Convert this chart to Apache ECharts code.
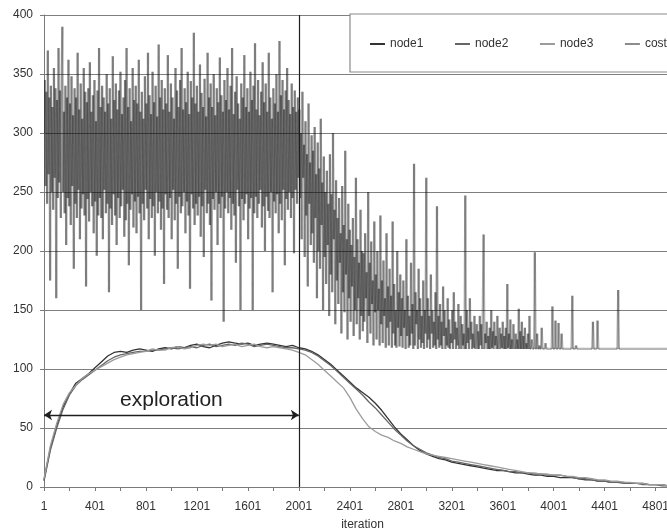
<!DOCTYPE html>
<html>
<head>
<meta charset="utf-8">
<script src="https://cdn.jsdelivr.net/npm/echarts@6/dist/echarts.min.js"></script>
<style>
  html, body { margin: 0; padding: 0; background: #fff; }
  #chart { width: 667px; height: 530px; }
</style>
</head>
<body>
<div id="chart"></div>
<script>
// ---------------- DATA ----------------
const seriesNames = ['node1', 'node2', 'node3', 'cost'];
const xTickLabels = ['1', '401', '801', '1201', '1601', '2001', '2401', '2801', '3201', '3601', '4001', '4401', '4801'];
const yTickLabels = ['0', '50', '100', '150', '200', '250', '300', '350', '400'];
const explorationStart = 1;
const explorationEnd = 2001;
const explorationLevel = 61;

// node curves, sampled every 50 iterations starting at iteration 1
const nodeFirstIteration = 1;
const nodeStep = 50;
const node1 = [
  6, 33, 52, 68, 79, 88, 92, 96, 101, 106,
  111, 114, 115, 114, 116, 117, 116, 115, 117, 118,
  117, 119, 118, 120, 121, 119, 118, 120, 122, 123,
  122, 121, 122, 120, 121, 122, 121, 120, 119, 120,
  118, 117, 115, 112, 108, 104, 99, 94, 89, 84,
  80, 76, 71, 65, 58, 51, 45, 40, 35, 31,
  28, 26, 24, 23, 21, 20, 19, 18, 17, 16,
  15, 14, 14, 13, 12, 12, 11, 10, 10, 9,
  9, 8, 8, 8, 7, 6, 6, 5, 5, 4,
  4, 4, 3, 3, 3, 2, 2, 2, 1, 1
];
const node2 = [
  5, 31, 50, 66, 78, 86, 91, 95, 99, 103,
  107, 110, 112, 113, 114, 115, 115, 116, 116, 117,
  118, 117, 118, 119, 118, 120, 121, 119, 120, 121,
  120, 122, 121, 119, 120, 121, 120, 119, 118, 118,
  117, 116, 114, 111, 107, 103, 98, 93, 88, 83,
  78, 72, 67, 61, 55, 49, 44, 39, 35, 32,
  29, 27, 25, 24, 22, 21, 20, 19, 18, 17,
  16, 15, 14, 13, 13, 12, 12, 11, 11, 10,
  10, 10, 9, 8, 7, 7, 6, 5, 5, 4,
  4, 3, 3, 3, 2, 2, 2, 1, 1, 1
];
const node3 = [
  7, 35, 54, 70, 80, 86, 92, 96, 99, 102,
  105, 108, 110, 112, 113, 114, 115, 117, 116, 116,
  118, 119, 117, 118, 120, 121, 120, 121, 119, 120,
  121, 119, 120, 121, 119, 118, 119, 118, 117, 116,
  114, 112, 108, 104, 99, 94, 89, 84, 76, 66,
  58, 51, 47, 44, 42, 39, 37, 34, 32, 30,
  28, 27, 26, 25, 24, 23, 22, 21, 20, 19,
  18, 17, 16, 15, 14, 13, 12, 12, 11, 11,
  10, 10, 9, 9, 8, 8, 7, 6, 6, 5,
  5, 4, 4, 3, 3, 2, 2, 2, 1, 1
];

// cost, sampled every 6 iterations starting at iteration 1
const costFirstIteration = 1;
const costStep = 6;
const costExploration = [
  300, 345, 255, 335, 240, 370, 265, 330, 175, 340, 250, 322, 235, 355, 262, 338, 160, 328, 245, 372,
  258, 336, 228, 345, 390, 250, 318, 232, 340, 205, 330, 245, 362, 238, 325, 222, 348, 255, 315, 185,
  338, 240, 330, 228, 368, 252, 320, 210, 342, 236, 312, 248, 355, 230, 335, 170, 326, 244, 338, 225,
  360, 250, 318, 238, 332, 215, 345, 242, 310, 196, 336, 230, 372, 245, 322, 228, 340, 210, 330, 252,
  318, 232, 350, 240, 325, 165, 338, 236, 312, 222, 365, 248, 328, 230, 342, 205, 320, 245, 336, 228,
  352, 238, 316, 252, 330, 212, 345, 226, 372, 240, 322, 188, 338, 235, 310, 248, 355, 220, 328, 242,
  340, 215, 325, 246, 362, 232, 318, 150, 335, 240, 312, 226, 348, 252, 325, 236, 368, 210, 332, 244,
  316, 228, 352, 238, 326, 196, 340, 250, 314, 232, 375, 242, 330, 218, 345, 236, 320, 172, 338, 248,
  325, 235, 366, 228, 318, 245, 342, 210, 330, 252, 312, 226, 355, 240, 336, 185, 322, 246, 345, 232,
  372, 238, 320, 250, 338, 215, 326, 242, 352, 230, 316, 168, 344, 248, 330, 236, 385, 222, 325, 240,
  340, 230, 318, 246, 358, 212, 334, 238, 322, 195, 346, 252, 314, 232, 368, 240, 330, 222, 342, 158,
  322, 244, 350, 235, 315, 250, 338, 205, 326, 240, 364, 228, 332, 246, 318, 140, 345, 236, 328, 250,
  355, 232, 320, 245, 340, 218, 372, 240, 316, 230, 335, 190, 348, 252, 325, 238, 312, 150, 342, 244,
  330, 226, 366, 240, 322, 248, 338, 210, 318, 236, 352, 245, 328, 150, 340, 232, 376, 246, 320, 228,
  345, 240, 315, 252, 335, 220, 360, 238, 326, 200, 342, 246, 318, 234, 368, 228, 330, 250, 312, 165,
  338, 242, 325, 232, 350, 248, 318, 215, 378, 240, 332, 226, 345, 252, 320, 188, 336, 244, 355, 235,
  328, 250, 316, 228, 342, 245, 322, 198, 336, 252, 318, 240, 330, 262
];
const costExploitation = [
  // 2001-2100
  320, 245, 300, 210, 335, 262, 290, 195, 310, 230, 282, 170, 325, 240, 275, 205, 298,
  // 2100-2200
  215, 285, 190, 305, 228, 265, 160, 292, 200, 270, 185, 312, 222, 258, 150, 280, 195,
  // 2200-2300
  250, 172, 268, 205, 240, 145, 282, 180, 248, 165, 300, 210, 235, 138, 260, 175,
  // 2300-2400
  228, 155, 245, 190, 215, 130, 255, 165, 222, 148, 285, 180, 210, 125, 240, 160, 218,
  // 2400-2500
  140, 205, 170, 228, 128, 195, 150, 262, 138, 210, 160, 190, 125, 235, 145, 200, 132,
  // 2500-2600
  198, 140, 215, 160, 182, 122, 250, 145, 190, 130, 208, 155, 175, 120, 225, 148,
  // 2600-2700
  180, 125, 200, 150, 168, 120, 230, 138, 175, 122, 192, 145, 160, 118, 215, 135, 170,
  // 2700-2800
  120, 185, 140, 162, 118, 225, 130, 172, 120, 150, 118, 200, 135, 165, 119, 180, 128,
  // 2800-2900
  160, 118, 175, 135, 150, 117, 210, 128, 162, 118, 145, 120, 190, 130, 155, 117,
  // 2900-3000
  274, 120, 165, 138, 150, 117, 185, 125, 160, 118, 145, 122, 175, 117, 150, 130, 262,
  // 3000-3100
  118, 160, 125, 145, 117, 180, 130, 150, 118, 140, 120, 165, 117, 238, 125, 145, 118,
  // 3100-3200
  155, 120, 140, 117, 170, 128, 150, 117, 135, 120, 160, 118, 142, 117, 130, 122,
  // 3200-3300
  150, 117, 165, 125, 140, 117, 135, 120, 155, 117, 128, 145, 117, 138, 120, 130, 117,
  // 3300-3400
  247, 117, 150, 122, 135, 117, 160, 125, 140, 117, 130, 118, 145, 117, 125, 138, 117,
  // 3400-3500
  132, 117, 145, 120, 138, 117, 155, 214, 117, 130, 122, 140, 117, 128, 117, 135,
  // 3500-3600
  117, 150, 118, 132, 117, 140, 120, 128, 117, 145, 117, 125, 135, 117, 130, 118, 140,
  // 3600-3700
  117, 128, 117, 135, 117, 172, 118, 130, 117, 142, 117, 125, 117, 138, 120, 117, 130,
  // 3700-3800
  117, 125, 117, 151, 117, 132, 117, 140, 117, 128, 117, 135, 117, 122, 117, 130,
  // 3800-3900
  117, 145, 117, 117, 125, 117, 117, 117, 199, 117, 117, 130, 117, 117, 120, 117, 117,
  // 3900-4000
  135, 117, 117, 117, 117, 122, 117, 117, 117, 117, 117, 117, 117, 117, 153, 117, 117,
  // 4000-4100
  117, 141, 117, 117, 117, 139, 117, 117, 117, 130, 117, 117, 117, 117, 117, 117,
  // 4100-4200
  117, 117, 117, 117, 117, 117, 117, 162, 117, 117, 117, 117, 120, 117, 117, 117, 117,
  // 4200-4300
  117, 117, 117, 117, 117, 117, 117, 117, 117, 117, 117, 117, 117, 117, 117, 117, 117,
  // 4300-4400
  140, 117, 117, 117, 117, 117, 141, 117, 117, 117, 117, 117, 117, 117, 117, 117,
  // 4400-4500
  117, 117, 117, 117, 117, 117, 117, 117, 117, 117, 117, 117, 117, 117, 117, 117, 117,
  // 4500-4600
  167, 117, 117, 117, 117, 117, 117, 117, 117, 117, 117, 117, 117, 117, 117, 117, 117,
  // 4600-4700
  117, 117, 117, 117, 117, 117, 117, 117, 117, 117, 117, 117, 117, 117, 117, 117,
  // 4700-5000
  117, 117, 117, 117, 117, 117, 117, 117, 117, 117, 117, 117, 117, 117, 117, 117, 117,
  117, 117, 117, 117, 117, 117, 117, 117, 117, 117, 117, 117, 117, 117, 117, 117, 117,
  117, 117, 117, 117, 117, 117, 117, 117, 117, 117, 117, 117, 117, 117, 117, 117
];
const cost = costExploration.concat(costExploitation);

// ---------------- BUILD ----------------
// x axis value = iteration - 1 so that label "1" sits at 0 and ticks fall every 200 iterations
const toX = it => it - 1;
const nodeSeriesData = arr => arr.map((v, i) => [toX(nodeFirstIteration + i * nodeStep), v]);
const costSegments = cost.map((v, i) => {
  const it = costFirstIteration + i * costStep;
  const j = i > 0 ? i - 1 : 0;
  const pit = costFirstIteration + j * costStep;
  return [toX(it), v, toX(pit), cost[j]];
});

const FONT = '"Liberation Sans", Arial, sans-serif';
const chart = echarts.init(document.getElementById('chart'), null, { renderer: 'canvas' });

chart.setOption({
  animation: false,
  backgroundColor: '#ffffff',
  textStyle: { fontFamily: FONT },
  grid: { left: 44, top: 15, right: -14, bottom: 43, containLabel: false, outerBoundsMode: 'none' },
  legend: {
    data: seriesNames,
    left: 365,
    top: 33,
    width: 330,
    icon: 'rect',
    itemWidth: 15,
    itemHeight: 2,
    itemGap: 31.6,
    textStyle: { fontFamily: FONT, fontSize: 12, color: '#333' },
    z: 6
  },
  graphic: [{
    type: 'rect',
    z: 5,
    shape: { x: 350, y: 14, width: 340, height: 58 },
    style: { fill: '#ffffff', stroke: '#8a8a8a', lineWidth: 1.2 }
  }],
  xAxis: {
    type: 'value',
    min: 0,
    max: 4999,
    interval: 200,
    name: 'iteration',
    nameLocation: 'middle',
    nameGap: 32,
    nameTextStyle: { fontFamily: FONT, fontSize: 12, color: '#333' },
    axisLine: { show: true, lineStyle: { color: '#7a7a7a', width: 1 } },
    axisTick: { show: true, length: 4, lineStyle: { color: '#7a7a7a' } },
    splitLine: { show: false },
    axisLabel: {
      fontFamily: FONT, fontSize: 12, color: '#333', margin: 14,
      showMaxLabel: false,
      formatter: v => {
        const lbl = String(v + 1);
        return xTickLabels.indexOf(lbl) >= 0 ? lbl : '';
      }
    }
  },
  yAxis: {
    type: 'value',
    min: 0,
    max: 400,
    interval: 50,
    axisLine: { show: true, lineStyle: { color: '#7a7a7a', width: 1 } },
    axisTick: { show: true, length: 4, lineStyle: { color: '#7a7a7a' } },
    splitLine: { show: true, lineStyle: { color: '#7f7f7f', width: 1 } },
    axisLabel: {
      fontFamily: FONT, fontSize: 12, color: '#333', margin: 11,
      formatter: v => (yTickLabels.indexOf(String(v)) >= 0 ? String(v) : '')
    }
  },
  series: [
    {
      name: 'node1', type: 'line', symbol: 'none', showSymbol: false, z: 4,
      data: nodeSeriesData(node1),
      itemStyle: { color: '#333333' },
      lineStyle: { color: '#333333', width: 1.3 },
      markLine: {
        silent: true, symbol: 'none', animation: false,
        label: { show: false },
        lineStyle: { color: '#1e1e1e', width: 1.2, type: 'solid' },
        data: [{ xAxis: toX(explorationEnd) }]
      }
    },
    {
      name: 'node2', type: 'line', symbol: 'none', showSymbol: false, z: 4,
      data: nodeSeriesData(node2),
      itemStyle: { color: '#666666' },
      lineStyle: { color: '#666666', width: 1.3 },
      markLine: {
        silent: true, animation: false,
        symbol: ['arrow', 'arrow'],
        symbolSize: 8,
        lineStyle: { color: '#1e1e1e', width: 1.3, type: 'solid' },
        label: {
          show: true, position: 'insideMiddleTop', distance: 4,
          formatter: 'exploration',
          fontFamily: FONT, fontSize: 21, color: '#222'
        },
        data: [[
          { coord: [toX(explorationStart), explorationLevel] },
          { coord: [toX(explorationEnd), explorationLevel] }
        ]]
      }
    },
    {
      name: 'node3', type: 'line', symbol: 'none', showSymbol: false, z: 4,
      data: nodeSeriesData(node3),
      itemStyle: { color: '#9c9c9c' },
      lineStyle: { color: '#9c9c9c', width: 1.3 }
    },
    {
      name: 'cost', type: 'custom', z: 3, clip: true,
      progressive: 0,
      itemStyle: { color: '#8c8c8c' },
      encode: { x: [0, 2], y: [1, 3] },
      data: costSegments,
      renderItem: (params, api) => {
        const p1 = api.coord([api.value(2), api.value(3)]);
        const p2 = api.coord([api.value(0), api.value(1)]);
        return {
          type: 'line',
          shape: { x1: p1[0], y1: p1[1], x2: p2[0], y2: p2[1] },
          style: { stroke: 'rgba(15,15,15,0.32)', lineWidth: 2.2 }
        };
      }
    }
  ]
});
</script>
</body>
</html>
